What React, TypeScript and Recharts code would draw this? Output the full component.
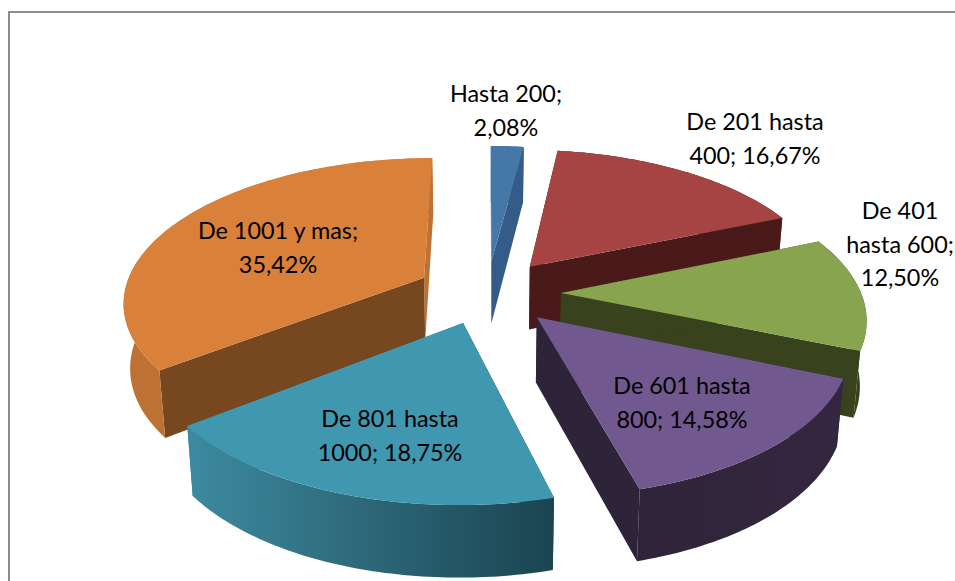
import { PieChart, Pie } from 'recharts';

// listed in paint order: the last slice (clockwise from "Hasta 200") has to sit behind its neighbour
const CATEGORIES = ['De 1001 y mas', 'Hasta 200', 'De 201 hasta 400', 'De 401 hasta 600', 'De 601 hasta 800', 'De 801 hasta 1000'];
const VALUES = [35.42, 2.08, 16.67, 12.5, 14.58, 18.75];
const LABELS = [
  ['De 1001 y mas;', '35,42%'],
  ['Hasta 200;', '2,08%'],
  ['De 201 hasta', '400; 16,67%'],
  ['De 401', 'hasta 600;', '12,50%'],
  ['De 601 hasta', '800; 14,58%'],
  ['De 801 hasta', '1000; 18,75%'],
];

const TOP_COLORS = ['#d9803a', '#4577a9', '#a54442', '#89a44e', '#71588f', '#4097b0'];
const SIDE_COLORS = ['#77471f', '#355c88', '#4a1a1b', '#38431e', '#2e2439', '#1b4450'];
const RIM_LEFT = ['#bd7234', '#355c88', '#4a1a1b', '#38431e', '#2e2439', '#3d8aa0'];
const RIM_RIGHT = ['#bd7234', '#355c88', '#4a1a1b', '#38431e', '#35263f', '#1b4450'];
const LABEL_POS = [
  [278, 239],
  [506, 102],
  [755, 130],
  [900, 219],
  [682, 394],
  [390, 427],
];
// small per-slice corrections in px, the real chart's perspective is not quite this one
const NUDGE = [
  [-4, -1],
  [-2, 0],
  [0, -1],
  [3, 0],
  [1, -1],
  [-3, -2],
];

const data = CATEGORIES.map((name, i) => ({ name, value: VALUES[i], index: i }));

// fake 3d: projection of the flat pie
const EXPLODE = 0.23;
const PERSPECTIVE = 0.156;
const SQUASH = 142.4 / 300;
const BOTTOM_SCALE = 0.982;

function project(cx: number, cy: number, r: number, X: number, Y: number, down: boolean) {
  const s = 1 / (1 - PERSPECTIVE * Y);
  let x = cx + r * X * s;
  const y = cy + r * SQUASH * Y * s + (down ? 64 + 7 * Y : 0);
  if (down) x = cx + (x - cx) * BOTTOM_SCALE;
  return [x, y];
}

const toPath = (pts: number[][]) => 'M' + pts.map((p) => p[0].toFixed(1) + ',' + p[1].toFixed(1)).join('L') + 'Z';

function Slice(props: any) {
  const { cx, cy, outerRadius: r, startAngle, endAngle } = props;
  const i = props.payload?.index ?? props.index;
  const a0 = ((90 - startAngle) * Math.PI) / 180;
  const a1 = ((90 - endAngle) * Math.PI) / 180;
  const mid = (a0 + a1) / 2;
  const ox = EXPLODE * Math.sin(mid);
  const oy = -EXPLODE * Math.cos(mid);
  const steps = Math.max(2, Math.ceil(((a1 - a0) * 180) / Math.PI));
  const arc: number[][] = [];
  for (let k = 0; k <= steps; k++) {
    const a = a0 + ((a1 - a0) * k) / steps;
    arc.push([ox + Math.sin(a), oy - Math.cos(a)]);
  }
  const up = (p: number[]) => project(cx, cy, r, p[0], p[1], false);
  const dn = (p: number[]) => project(cx, cy, r, p[0], p[1], true);
  const apex = [ox, oy];
  const first = arc[0];
  const last = arc[arc.length - 1];
  const gid = 'rim' + i;
  const xs = arc.map((p) => up(p)[0]);
  return (
    <g transform={`translate(${NUDGE[i][0]},${NUDGE[i][1]})`}>
      <defs>
        <linearGradient id={gid} gradientUnits="userSpaceOnUse" x1={Math.min(...xs)} x2={Math.max(...xs)} y1={0} y2={0}>
          <stop offset="0%" stopColor={RIM_LEFT[i]} />
          <stop offset="100%" stopColor={RIM_RIGHT[i]} />
        </linearGradient>
      </defs>
      <path d={toPath([up(apex), up(last), dn(last), dn(apex)])} fill={RIM_LEFT[i]} />
      <path d={toPath([up(apex), up(first), dn(first), dn(apex)])} fill={SIDE_COLORS[i]} />
      <path d={toPath([...arc.map(up), ...arc.slice().reverse().map(dn)])} fill={`url(#${gid})`} />
      <path d={toPath([up(apex), ...arc.map(up)])} fill={TOP_COLORS[i]} />
    </g>
  );
}

function SliceLabel(props: any) {
  const i = props.payload?.index ?? props.index;
  const [x, y] = LABEL_POS[i];
  return (
    <text x={x} y={y} textAnchor="middle" fontFamily="Lato" fontSize={23.4} fill="#000">
      {LABELS[i].map((line, n) => (
        <tspan key={line} x={x} y={y + n * 33.5}>
          {line}
        </tspan>
      ))}
    </text>
  );
}

export default function App() {
  return (
    <div style={{ position: 'absolute', left: 0, top: 0, width: 955, height: 581, overflow: 'hidden', background: '#fff' }}>
      <div
        style={{
          position: 'absolute',
          left: 8,
          top: 11,
          width: 947,
          height: 570,
          borderLeft: '2px solid #8c8c8c',
          borderTop: '2px solid #8c8c8c',
        }}
      />
      <PieChart width={955} height={581} style={{ position: 'absolute', left: 0, top: 0 }}>
        <Pie
          data={data}
          dataKey="value"
          nameKey="name"
          cx={484}
          cy={288}
          outerRadius={300}
          startAngle={217.5}
          endAngle={-142.5}
          stroke="none"
          shape={Slice}
          label={SliceLabel}
          labelLine={false}
          isAnimationActive={false}
        />
      </PieChart>
    </div>
  );
}
